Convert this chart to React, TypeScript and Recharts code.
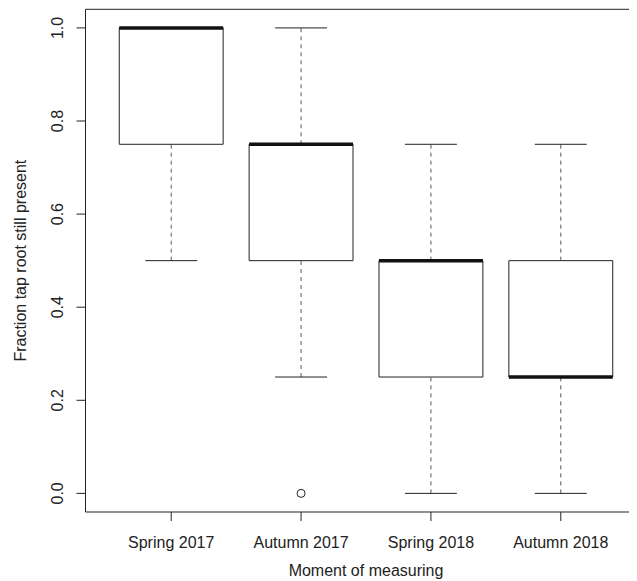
import React from 'react';
import { ComposedChart, XAxis, YAxis, Scatter, ReferenceArea, ReferenceLine } from 'recharts';

// box statistics per measuring moment
const categories = ['Spring 2017', 'Autumn 2017', 'Spring 2018', 'Autumn 2018'];
const positions = [1, 2, 3, 4];
const whiskerLow = [0.5, 0.25, 0, 0];
const lowerHinge = [0.75, 0.5, 0.25, 0.25];
const medians = [1.0, 0.75, 0.5, 0.25];
const upperHinge = [1.0, 0.75, 0.5, 0.5];
const whiskerHigh = [1.0, 1.0, 0.75, 0.75];
const outliers = [{ x: 2, y: 0 }];
const yTicks = [0, 0.2, 0.4, 0.6, 0.8, 1.0];

const FONT = '"Liberation Sans", Arial, Helvetica, sans-serif';
const INK = '#222';
const BOX_HALF = 0.4;
const CAP_HALF = 0.2;
const X_MIN = 0.34;
const X_MAX = 4.66;
const Y_MIN = -0.04;
const Y_MAX = 1.04;

const XTick = ({ x, y, payload }: any) => (
  <text x={x} y={y + 26.7} textAnchor="middle" fontSize={16} fontFamily={FONT} fill={INK}>
    {categories[positions.indexOf(payload.value)]}
  </text>
);

const YTick = ({ x, y, payload }: any) => {
  const bx = x - 13.2;
  return (
    <text x={bx} y={y} textAnchor="middle" transform={`rotate(-90, ${bx}, ${y})`}
      fontSize={16} fontFamily={FONT} fill={INK}>
      {payload.value.toFixed(1)}
    </text>
  );
};

const OpenCircle = ({ cx, cy }: any) => (
  <circle cx={cx} cy={cy} r={4} fill="#fff" stroke={INK} strokeWidth={1} />
);

const App = () => {
  return (
    <div style={{ width: 629, height: 573, overflow: 'hidden' }}>
      <ComposedChart width={660} height={573} margin={{ top: 1.3, right: 21.5, bottom: 0, left: 0 }}>
        <XAxis type="number" dataKey="x" domain={[X_MIN, X_MAX]} ticks={positions} allowDataOverflow
          axisLine={false} tickLine={{ stroke: INK }} tickSize={9} tickMargin={0} height={69}
          tick={<XTick />} interval={0}
          label={{
            content: ({ viewBox }: any) => (
              <text x={viewBox.x + viewBox.width / 2} y={viewBox.y + 64} textAnchor="middle"
                fontSize={16} fontFamily={FONT} fill={INK}>Moment of measuring</text>
            ),
          }} />
        <YAxis type="number" dataKey="y" domain={[Y_MIN, Y_MAX]} ticks={yTicks} allowDataOverflow
          axisLine={false} tickLine={{ stroke: INK }} tickSize={9} tickMargin={0} width={77.5}
          tick={<YTick />} interval={0}
          label={{
            content: ({ viewBox }: any) => {
              const lx = 18.5;
              const ly = viewBox.y + viewBox.height / 2;
              return (
                <text x={lx} y={ly} textAnchor="middle" transform={`rotate(-90, ${lx}, ${ly})`}
                  fontSize={16} fontFamily={FONT} fill={INK}>Fraction tap root still present</text>
              );
            },
          }} />

        {positions.map((p, i) => (
          <React.Fragment key={p}>
            {/* whiskers */}
            <ReferenceLine segment={[{ x: p, y: upperHinge[i] }, { x: p, y: whiskerHigh[i] }]}
              stroke="#555" strokeDasharray="4 4" ifOverflow="visible" />
            <ReferenceLine segment={[{ x: p, y: whiskerLow[i] }, { x: p, y: lowerHinge[i] }]}
              stroke="#555" strokeDasharray="4 4" ifOverflow="visible" />
            {/* staples */}
            <ReferenceLine segment={[{ x: p - CAP_HALF, y: whiskerHigh[i] }, { x: p + CAP_HALF, y: whiskerHigh[i] }]}
              stroke={INK} ifOverflow="visible" />
            <ReferenceLine segment={[{ x: p - CAP_HALF, y: whiskerLow[i] }, { x: p + CAP_HALF, y: whiskerLow[i] }]}
              stroke={INK} ifOverflow="visible" />
            {/* box */}
            <ReferenceArea x1={p - BOX_HALF} x2={p + BOX_HALF} y1={lowerHinge[i]} y2={upperHinge[i]}
              fill="#fff" fillOpacity={1} stroke={INK} strokeWidth={1} ifOverflow="visible" />
            {/* median */}
            <ReferenceLine segment={[{ x: p - BOX_HALF, y: medians[i] }, { x: p + BOX_HALF, y: medians[i] }]}
              stroke="#111" strokeWidth={3.5} ifOverflow="visible" />
          </React.Fragment>
        ))}

        {/* plot frame: right side lies outside the cropped picture */}
        <ReferenceLine segment={[{ x: X_MIN, y: Y_MAX }, { x: X_MAX, y: Y_MAX }]} stroke={INK} ifOverflow="visible" />
        <ReferenceLine segment={[{ x: X_MIN, y: Y_MIN }, { x: X_MAX, y: Y_MIN }]} stroke={INK} ifOverflow="visible" />
        <ReferenceLine segment={[{ x: X_MIN, y: Y_MIN }, { x: X_MIN, y: Y_MAX }]} stroke={INK} ifOverflow="visible" />

        <Scatter data={outliers} dataKey="y" shape={<OpenCircle />} isAnimationActive={false} />
      </ComposedChart>
    </div>
  );
};

export default App;
